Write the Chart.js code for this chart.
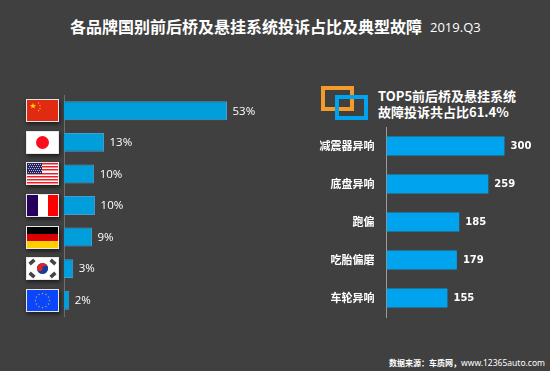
<!DOCTYPE html>
<html>
<head>
<meta charset="utf-8">
<script src="https://cdn.jsdelivr.net/npm/chart.js@4"></script>
<style>
html,body{margin:0;padding:0;}
body{width:550px;height:371px;overflow:hidden;background:#404040;position:relative;font-family:"Noto Sans CJK SC",sans-serif;color:#fff;}
.abs{position:absolute;white-space:nowrap;}
</style>
</head>
<body>
<div class="abs" style="left:70px;top:15px;font-size:16px;line-height:22px;font-weight:700;">各品牌国别前后桥及悬挂系统投诉占比及典型故障</div>
<div class="abs" style="left:430px;top:17px;font-size:13px;line-height:20px;font-family:'Open Sans',sans-serif;">2019.Q3</div>
<div class="abs" style="left:321px;top:86px;width:25px;height:17px;border:4px solid #f39c2c;"></div>
<div class="abs" style="left:335px;top:95px;width:25px;height:17px;border:4px solid #00a3ee;"></div>
<div class="abs" style="left:378px;top:88px;font-size:13px;line-height:16px;font-weight:700;">TOP5前后桥及悬挂系统<br>故障投诉共占比61.4%</div>
<div class="abs" style="right:5px;top:356px;font-size:8px;line-height:14px;font-weight:700;">数据来源：车质网，<span style="font-size:8.5px;font-weight:400;font-family:'Noto Sans',sans-serif;">www.12365auto.com</span></div>
<div class="abs" style="left:0;top:90px;width:280px;height:232px;"><canvas id="brand"></canvas></div>
<div class="abs" style="left:280px;top:122px;width:270px;height:200px;"><canvas id="fault"></canvas></div>
<script>
const countries = ['中国', '日本', '美国', '法国', '德国', '韩国', '欧盟'];
const shares = [53, 13, 9.8, 10.1, 9.1, 3, 1.7];
const shareLabels = ['53%', '13%', '10%', '10%', '9%', '3%', '2%'];
const faults = ['减震器异响', '底盘异响', '跑偏', '吃胎偏磨', '车轮异响'];
const faultCounts = [300, 259, 185, 179, 155];

function star(ctx, x, y, r, color) {
    ctx.fillStyle = color;
    ctx.beginPath();
    for (let i = 0; i < 10; i++) {
        const a = -Math.PI / 2 + i * Math.PI / 5;
        const d = i % 2 ? r * 0.42 : r;
        ctx.lineTo(x + Math.cos(a) * d, y + Math.sin(a) * d);
    }
    ctx.closePath();
    ctx.fill();
}

// each flag paints inside a w x h box at its own origin
const flagPainters = {
    '中国': (c, w, h) => {
        c.fillStyle = '#e02a12'; c.fillRect(0, 0, w, h);
        star(c, 6, 6, 3.2, '#ffd200');
        [[11.5, 3], [13, 5.5], [13, 8.5], [11.5, 10.5]].forEach(p => star(c, p[0], p[1], 1, '#ffd200'));
    },
    '日本': (c, w, h) => {
        c.fillStyle = '#fff'; c.fillRect(0, 0, w, h);
        c.fillStyle = '#fb0d1b'; c.beginPath(); c.arc(w / 2, h / 2, 6.5, 0, Math.PI * 2); c.fill();
    },
    '美国': (c, w, h) => {
        c.fillStyle = '#fff'; c.fillRect(0, 0, w, h);
        c.fillStyle = '#ee1c25';
        for (let i = 0; i < 7; i++) c.fillRect(0, Math.round(i * h / 6.5), w, 1.5);
        c.fillStyle = '#23235e'; c.fillRect(0, 0, 15, 11);
        c.fillStyle = '#b9b9d8';
        for (let y = 1; y < 11; y += 2) for (let x = 1 + (y % 4 === 1 ? 0 : 1); x < 15; x += 2) c.fillRect(x, y, 1, 1);
    },
    '法国': (c, w, h) => {
        c.fillStyle = '#fff'; c.fillRect(0, 0, w, h);
        c.fillStyle = '#26005f'; c.fillRect(0, 0, 11, h);
        c.fillStyle = '#ff0000'; c.fillRect(21, 0, w - 21, h);
    },
    '德国': (c, w, h) => {
        c.fillStyle = '#000'; c.fillRect(0, 0, w, h / 3);
        c.fillStyle = '#dd0000'; c.fillRect(0, h / 3, w, h / 3);
        c.fillStyle = '#ffce00'; c.fillRect(0, h * 2 / 3, w, h / 3);
    },
    '韩国': (c, w, h) => {
        c.fillStyle = '#fff'; c.fillRect(0, 0, w, h);
        const cx = w / 2, cy = h / 2;
        c.fillStyle = '#123f9c'; c.beginPath(); c.arc(cx, cy, 5.5, 0, Math.PI * 2); c.fill();
        c.fillStyle = '#d8262c'; c.beginPath(); c.arc(cx, cy, 5.5, Math.PI, 0); c.fill();
        c.beginPath(); c.arc(cx - 2.7, cy, 2.8, 0, Math.PI * 2); c.fill();
        c.fillStyle = '#123f9c'; c.beginPath(); c.arc(cx + 2.7, cy, 2.8, 0, Math.PI * 2); c.fill();
        c.strokeStyle = '#444'; c.lineWidth = 3.5;
        [[-1, -1], [1, -1], [-1, 1], [1, 1]].forEach(s => {
            const x = cx + s[0] * 10.5, y = cy + s[1] * 6.5;
            c.beginPath();
            c.moveTo(x - s[1] * 2.4, y + s[0] * 2.4 * 0.9);
            c.lineTo(x + s[1] * 2.4, y - s[0] * 2.4 * 0.9);
            c.stroke();
        });
    },
    '欧盟': (c, w, h) => {
        c.fillStyle = '#0b46ff'; c.fillRect(0, 0, w, h);
        for (let i = 0; i < 12; i++) {
            const a = i * Math.PI / 6;
            star(c, w / 2 + Math.cos(a) * 7, h / 2 + Math.sin(a) * 7, 1, '#e6c81e');
        }
    }
};

// draws the flag next to each category, centred on the scale's tick
const flagPlugin = {
    id: 'flags',
    afterDraw(chart) {
        const ctx = chart.ctx, yScale = chart.scales.y;
        const w = 31, h = 21;
        countries.forEach((name, i) => {
            const y = Math.round(yScale.getPixelForValue(i) - h / 2);
            ctx.save();
            ctx.translate(27, y);
            ctx.shadowColor = 'rgba(0,0,0,0.6)';
            ctx.shadowBlur = 4;
            ctx.shadowOffsetX = 1;
            ctx.shadowOffsetY = 2;
            ctx.fillStyle = '#e8e8e8';
            ctx.fillRect(-1, -1, w + 2, h + 2);
            ctx.shadowColor = 'transparent';
            ctx.beginPath(); ctx.rect(0, 0, w, h); ctx.clip();
            flagPainters[name](ctx, w, h);
            ctx.restore();
        });
    }
};

const valueLabels = {
    id: 'valueLabels',
    afterDatasetsDraw(chart, args, opts) {
        const ctx = chart.ctx;
        ctx.save();
        ctx.font = opts.font;
        ctx.fillStyle = '#fff';
        ctx.textBaseline = 'middle';
        chart.getDatasetMeta(0).data.forEach((bar, i) => {
            ctx.fillText(opts.labels[i], bar.x + opts.gap, bar.y + 0.5);
        });
        ctx.restore();
    }
};

function axisX(max) {
    return { min: 0, max: max, display: false };
}

new Chart(document.getElementById('brand'), {
    type: 'bar',
    data: {
        labels: countries,
        datasets: [{
            data: shares,
            backgroundColor: '#009fdc',
            borderColor: '#4a9bd0',
            borderWidth: 1,
            borderSkipped: 'left',
            barPercentage: 0.6,
            categoryPercentage: 1
        }]
    },
    options: {
        indexAxis: 'y',
        responsive: true,
        maintainAspectRatio: false,
        animation: false,
        layout: { padding: { left: 64, right: 50, top: 5, bottom: 6 } },
        plugins: {
            legend: { display: false },
            tooltip: { enabled: false },
            valueLabels: { labels: shareLabels, gap: 5.5, font: '11.5px "Open Sans"' }
        },
        scales: {
            x: axisX(53 * 166 / 163),
            y: {
                ticks: { display: false },
                grid: { display: false, drawTicks: false },
                border: { color: '#6e6e6e', width: 1 }
            }
        }
    },
    plugins: [flagPlugin, valueLabels]
});

new Chart(document.getElementById('fault'), {
    type: 'bar',
    data: {
        labels: faults,
        datasets: [{
            data: faultCounts,
            backgroundColor: '#00a3ee',
            barPercentage: 0.5,
            categoryPercentage: 1
        }]
    },
    options: {
        indexAxis: 'y',
        responsive: true,
        maintainAspectRatio: false,
        animation: false,
        layout: { padding: { left: 0, right: 18, top: 5, bottom: 5 } },
        plugins: {
            legend: { display: false },
            tooltip: { enabled: false },
            valueLabels: { labels: faultCounts, gap: 6, font: 'bold 10px "DejaVu Sans"' }
        },
        scales: {
            x: axisX(370),
            y: {
                // tick padding otherwise eats into the plot height
                afterFit(scale) {
                    scale.width = 106.5;
                    scale.paddingTop = 0;
                    scale.paddingBottom = 0;
                },
                ticks: { color: '#fff', padding: 12, font: { family: '"Noto Sans CJK SC"', size: 11, weight: 'bold' } },
                grid: { display: false, drawTicks: false },
                border: { color: '#9a9a9a', width: 1 }
            }
        }
    },
    plugins: [valueLabels]
});
</script>
</body>
</html>
